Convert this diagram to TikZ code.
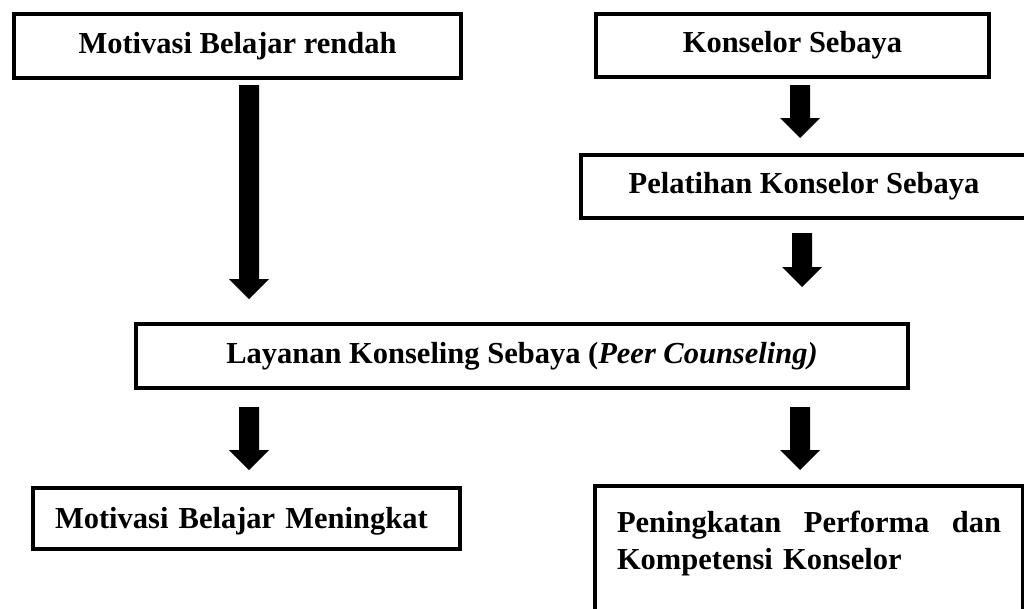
\documentclass[tikz,border=0pt]{standalone}
\usepackage{fontspec}
\setmainfont{Liberation Serif}
\usetikzlibrary{calc}
\tikzset{
  boxline/.style={draw=black, line width=4pt, fill=white},
  cbox/.style={boxline, inner sep=0pt, align=center, text height=22pt, text depth=8pt,
    font=\fontsize{30.5}{37}\selectfont\bfseries},
  lbox/.style={boxline, inner xsep=22pt, align=left,
    font=\fontsize{30.5}{37}\selectfont\bfseries},
}
\newcommand\fatarrow[2]{%
  \fill[black] ([xshift=-10pt]#1) -- ([xshift=10pt]#1) -- ([xshift=10pt,yshift=20pt]#2)
    -- ([xshift=20pt,yshift=20pt]#2) -- (#2) -- ([xshift=-20pt,yshift=20pt]#2)
    -- ([xshift=-10pt,yshift=20pt]#2) -- cycle;}
\begin{document}
\begin{tikzpicture}[x=1pt,y=-1pt]
\clip (0,0) rectangle (1024,608);
\fill[white] (0,0) rectangle (1024,608);

\node[cbox, minimum width=447pt, minimum height=64pt] (mot) at (237.5,46) {Motivasi Belajar rendah};
\node[cbox, minimum width=393pt, minimum height=63pt] (kon) at (792.5,45.5) {Konselor Sebaya};
\node[cbox, minimum width=446pt, minimum height=63pt] (pel) at (804,186.5) {Pelatihan Konselor Sebaya};
\node[cbox, minimum width=772pt, minimum height=64pt] (lay) at (522,356) {Layanan Konseling Sebaya ({\itshape Peer Counseling)}};
\node[lbox, text width=383pt, minimum height=61pt, text height=22pt, text depth=3pt, inner ysep=0pt] (men) at (246.5,518.5) {Motivasi Belajar Meningkat};
\node[lbox, text width=384pt, anchor=north, inner ysep=25pt, text depth=140pt] (per) at (809,484)
  {\makebox[384pt][s]{Peningkatan \hfill Performa \hfill dan}\\Kompetensi Konselor};

\coordinate (a1s) at (249,85);  \coordinate (a1e) at (249,299);
\coordinate (a2s) at (800,85);  \coordinate (a2e) at (800,138);
\coordinate (a3s) at (802,233); \coordinate (a3e) at (802,287);
\coordinate (a4s) at (249,407); \coordinate (a4e) at (249,470);
\coordinate (a5s) at (800,407); \coordinate (a5e) at (800,470);

\fatarrow{a1s}{a1e}
\fatarrow{a2s}{a2e}
\fatarrow{a3s}{a3e}
\fatarrow{a4s}{a4e}
\fatarrow{a5s}{a5e}
\end{tikzpicture}
\end{document}
